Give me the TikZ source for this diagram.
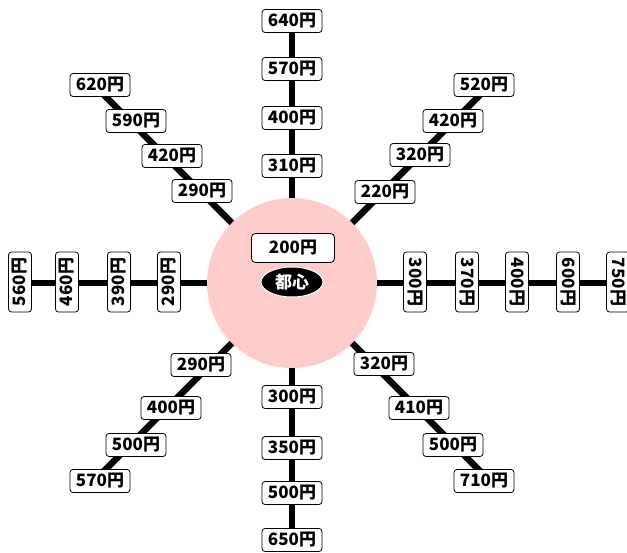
\documentclass[tikz,border=0pt]{standalone}
\usepackage{fontspec}
\newfontfamily\jpfont{Noto Sans CJK JP}
\usetikzlibrary{shapes.geometric}
\definecolor{hubpink}{HTML}{FFCCCC}
\tikzset{
  fare/.style={draw=black, line width=0.8pt, fill=white, rounded corners=3pt,
    minimum width=60pt, minimum height=23pt, inner sep=0pt,
    font=\jpfont\bfseries\fontsize{17}{17}\selectfont},
  fareup/.style={fare, rotate=90},
  faredown/.style={fare, rotate=-90},
  route/.style={line width=6.5pt, line cap=butt},
}
\begin{document}
\begin{tikzpicture}[x=1pt,y=-1pt]
\useasboundingbox (0,0) rectangle (627,552);
% hub position and the far ends of the eight routes
\coordinate (c) at (292,283);
\coordinate (eN) at (292,21);
\coordinate (eS) at (292,540);
\coordinate (eW) at (20,283);
\coordinate (eE) at (627,283);
\coordinate (eNW) at (100,91);
\coordinate (eNE) at (484,91);
\coordinate (eSW) at (100,475);
\coordinate (eSE) at (484,475);
% routes
\foreach \e in {eN,eS,eW,eE,eNW,eNE,eSW,eSE}
  \draw[route] (c) -- (\e);
% central zone
\node[circle, fill=hubpink, minimum size=170pt, inner sep=0pt] (hub) at (c) {};
\node[fare, minimum width=83pt, minimum height=29pt, rounded corners=4pt] (base) at (293,248) {200円};
\node[ellipse, fill=black, draw=white, line width=1pt, minimum width=62pt, minimum height=30pt, inner sep=0pt,
  text=white, font=\jpfont\bfseries\fontsize{17}{17}\selectfont] (centre) at (292,282) {都心};
% north
\node[fare] (n1) at (292,166) {310円};
\node[fare] (n2) at (292,118) {400円};
\node[fare] (n3) at (292,69) {570円};
\node[fare] (n4) at (292,21) {640円};
% south
\node[fare] (s1) at (292,397) {300円};
\node[fare] (s2) at (292,448) {350円};
\node[fare] (s3) at (292,493) {500円};
\node[fare] (s4) at (292,540) {650円};
% west
\node[fareup] (w1) at (169,282) {290円};
\node[fareup] (w2) at (119,282) {390円};
\node[fareup] (w3) at (67,282) {460円};
\node[fareup] (w4) at (20,282) {560円};
% east
\node[faredown] (e1) at (415,282) {300円};
\node[faredown] (e2) at (467,282) {370円};
\node[faredown] (e3) at (517,282) {400円};
\node[faredown] (e4) at (568,282) {600円};
\node[faredown] (e5) at (618,282) {750円};
% north-west
\node[fare] (nw1) at (202,191) {290円};
\node[fare] (nw2) at (172,156) {420円};
\node[fare] (nw3) at (136,121) {590円};
\node[fare] (nw4) at (100,85) {620円};
% north-east
\node[fare] (ne1) at (385,192) {220円};
\node[fare] (ne2) at (420,155) {320円};
\node[fare] (ne3) at (453,121) {420円};
\node[fare] (ne4) at (484,85) {520円};
% south-west
\node[fare] (sw1) at (201,365) {290円};
\node[fare] (sw2) at (171,408) {400円};
\node[fare] (sw3) at (136,445) {500円};
\node[fare] (sw4) at (100,481) {570円};
% south-east
\node[fare] (se1) at (384,364) {320円};
\node[fare] (se2) at (419,408) {410円};
\node[fare] (se3) at (453,445) {500円};
\node[fare] (se4) at (484,481) {710円};
\end{tikzpicture}
\end{document}
